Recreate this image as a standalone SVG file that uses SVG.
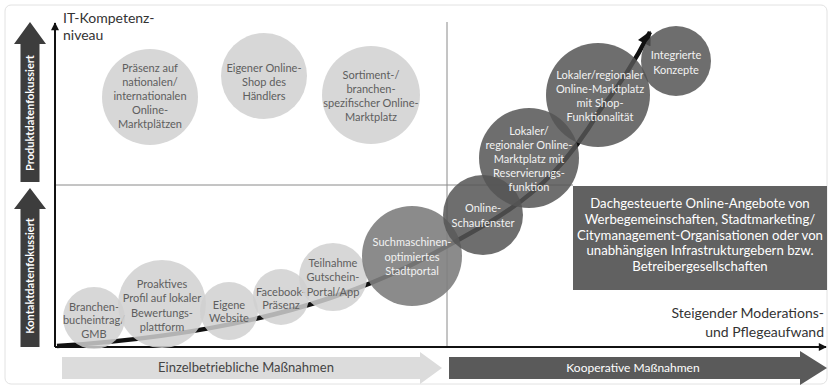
<svg xmlns="http://www.w3.org/2000/svg" width="831" height="387" viewBox="0 0 831 387">
<defs>
<style>
text{font-family:Lato,"Open Sans","Liberation Sans",sans-serif}
.lc{fill:#d0d0d0;opacity:.85}
.mc{fill:#7e7e7e;opacity:.9}
.dc{fill:#555;opacity:.85}
.lt{font-size:11px;fill:#5e5e5e;text-anchor:middle}
.dt{font-size:11px;fill:#f2f2f2;text-anchor:middle}
.bt{font-size:13.2px;fill:#fff;text-anchor:middle}
.ax{stroke:#111;stroke-width:2;fill:none}
.ql{stroke:#8a8a8a;stroke-width:1;fill:none}
.vt{font-size:11px;font-weight:bold;fill:#fff;text-anchor:middle}
</style>
<marker id="ah" viewBox="0 0 10 10" refX="9" refY="5" markerWidth="9" markerHeight="8" markerUnits="userSpaceOnUse" orient="auto"><path d="M0,0L10,5L0,10z" fill="#111"/></marker>
<marker id="bh" viewBox="0 0 10 10" refX="9" refY="5" markerWidth="16" markerHeight="14" markerUnits="userSpaceOnUse" orient="auto"><path d="M0,0L10,5L0,10z" fill="#111"/></marker>
</defs>
<rect x="5" y="5" width="822" height="379" rx="6" fill="#fff" stroke="#e2e2e2"/>
<g id="quadrants">
<line class="ql" x1="447" y1="22" x2="447" y2="346"/>
<line class="ql" x1="56" y1="185" x2="573" y2="185"/>
</g>
<g id="connectors">
<line class="ax" x1="55" y1="347" x2="55" y2="23" marker-end="url(#ah)"/>
<line class="ax" x1="55" y1="347" x2="826" y2="347" marker-end="url(#ah)"/>
<path d="M57,346 C150,340 250,325 330,298 C400,275 440,250 490,222 C540,192 570,160 600,110 Q628,75 650,32" fill="none" stroke="#111" stroke-width="4.5" marker-end="url(#bh)"/>
</g>
<g id="axis-label-y"><text x="63" y="23" font-size="14" fill="#333">IT-Kompetenz-</text><text x="63" y="40" font-size="14" fill="#333">niveau</text></g>
<g id="axis-label-x"><text x="824" y="318" font-size="14" fill="#333" text-anchor="end">Steigender Moderations-</text><text x="824" y="337" font-size="14" fill="#333" text-anchor="end">und Pflegeaufwand</text></g>
<g id="produkt-arrow"><polygon points="14,44 30,22 46,44 39.5,44 39.5,182 20.5,182 20.5,44" fill="#3d3d3d"/><text class="vt" transform="translate(34,113) rotate(-90)">Produktdatenfokussiert</text></g>
<g id="kontakt-arrow"><polygon points="14,209 30,188 46,209 39.5,209 39.5,347 20.5,347 20.5,209" fill="#3d3d3d"/><text class="vt" transform="translate(34,276) rotate(-90)">Kontaktdatenfokussiert</text></g>
<g id="n-praesenz"><circle class="lc" cx="150" cy="97" r="48"/><text class="lt"><tspan x="150" y="72">Präsenz auf</tspan><tspan x="150" y="86">nationalen/</tspan><tspan x="150" y="100">internationalen</tspan><tspan x="150" y="114">Online-</tspan><tspan x="150" y="128">Marktplätzen</tspan></text></g>
<g id="n-shop"><circle class="lc" cx="264" cy="76" r="43"/><text class="lt"><tspan x="264" y="72">Eigener Online-</tspan><tspan x="264" y="86">Shop des</tspan><tspan x="264" y="100">Händlers</tspan></text></g>
<g id="n-sortiment"><circle class="lc" cx="371" cy="95" r="49"/><text class="lt"><tspan x="371" y="79">Sortiment-/</tspan><tspan x="371" y="93">branchen-</tspan><tspan x="371" y="107">spezifischer Online-</tspan><tspan x="371" y="121">Marktplatz</tspan></text></g>
<g id="n-branchen"><circle class="lc" cx="94" cy="318" r="31"/><text class="lt"><tspan x="94" y="311">Branchen-</tspan><tspan x="94" y="324">bucheintrag/</tspan><tspan x="94" y="338">GMB</tspan></text></g>
<g id="n-proaktiv"><circle class="lc" cx="162" cy="304" r="44"/><text class="lt"><tspan x="162" y="288">Proaktives</tspan><tspan x="162" y="302">Profil auf lokaler</tspan><tspan x="162" y="317">Bewertungs-</tspan><tspan x="162" y="331">plattform</tspan></text></g>
<g id="n-website"><circle class="lc" cx="229" cy="311" r="29"/><text class="lt"><tspan x="229" y="309">Eigene</tspan><tspan x="229" y="322">Website</tspan></text></g>
<g id="n-facebook"><circle class="lc" cx="281" cy="297" r="28"/><text class="lt"><tspan x="281" y="296">Facebook-</tspan><tspan x="281" y="309">Präsenz</tspan></text></g>
<g id="n-gutschein"><circle class="lc" cx="333" cy="277" r="34"/><text class="lt"><tspan x="333" y="267">Teilnahme</tspan><tspan x="333" y="281">Gutschein-</tspan><tspan x="333" y="296">Portal/App</tspan></text></g>
<g id="n-stadtportal"><circle class="mc" cx="412" cy="256" r="50"/><text class="dt"><tspan x="412" y="246">Suchmaschinen-</tspan><tspan x="412" y="261">optimiertes</tspan><tspan x="412" y="275">Stadtportal</tspan></text></g>
<g id="n-schaufenster"><circle class="dc" cx="483" cy="215" r="40"/><text class="dt"><tspan x="483" y="212">Online-</tspan><tspan x="483" y="227">Schaufenster</tspan></text></g>
<g id="n-reservierung"><circle class="dc" cx="529" cy="158" r="50"/><text class="dt"><tspan x="529" y="135">Lokaler/</tspan><tspan x="529" y="149">regionaler Online-</tspan><tspan x="529" y="163">Marktplatz mit</tspan><tspan x="529" y="177">Reservierungs-</tspan><tspan x="529" y="191">funktion</tspan></text></g>
<g id="n-shopfunktion"><circle class="dc" cx="598" cy="95" r="52"/><text class="dt"><tspan x="600" y="79">Lokaler/regionaler</tspan><tspan x="600" y="93">Online-Marktplatz</tspan><tspan x="600" y="107">mit Shop-</tspan><tspan x="600" y="121">Funktionalität</tspan></text></g>
<g id="n-integriert"><circle class="dc" cx="676" cy="61" r="35"/><text class="dt"><tspan x="676" y="59">Integrierte</tspan><tspan x="676" y="74">Konzepte</tspan></text></g>
<g id="n-box"><rect x="573" y="186" width="254" height="104" fill="#616161"/><text class="bt"><tspan x="700" y="208">Dachgesteuerte Online-Angebote von</tspan><tspan x="700" y="224">Werbegemeinschaften, Stadtmarketing/</tspan><tspan x="700" y="240">Citymanagement-Organisationen oder von</tspan><tspan x="700" y="255">unabhängigen Infrastrukturgebern bzw.</tspan><tspan x="700" y="271">Betreibergesellschaften</tspan></text></g>
<g id="einzel-arrow"><polygon points="62,357 420,357 420,352 442,368 420,384 420,379 62,379" fill="#dcdcdc"/><text x="246" y="372" font-size="13" fill="#444" text-anchor="middle">Einzelbetriebliche Maßnahmen</text></g>
<g id="koop-arrow"><polygon points="449,357 800,357 800,351 827,368 800,385 800,379 449,379" fill="#5a5a5a"/><text x="633" y="372" font-size="12" fill="#fff" text-anchor="middle">Kooperative Maßnahmen</text></g>
</svg>
